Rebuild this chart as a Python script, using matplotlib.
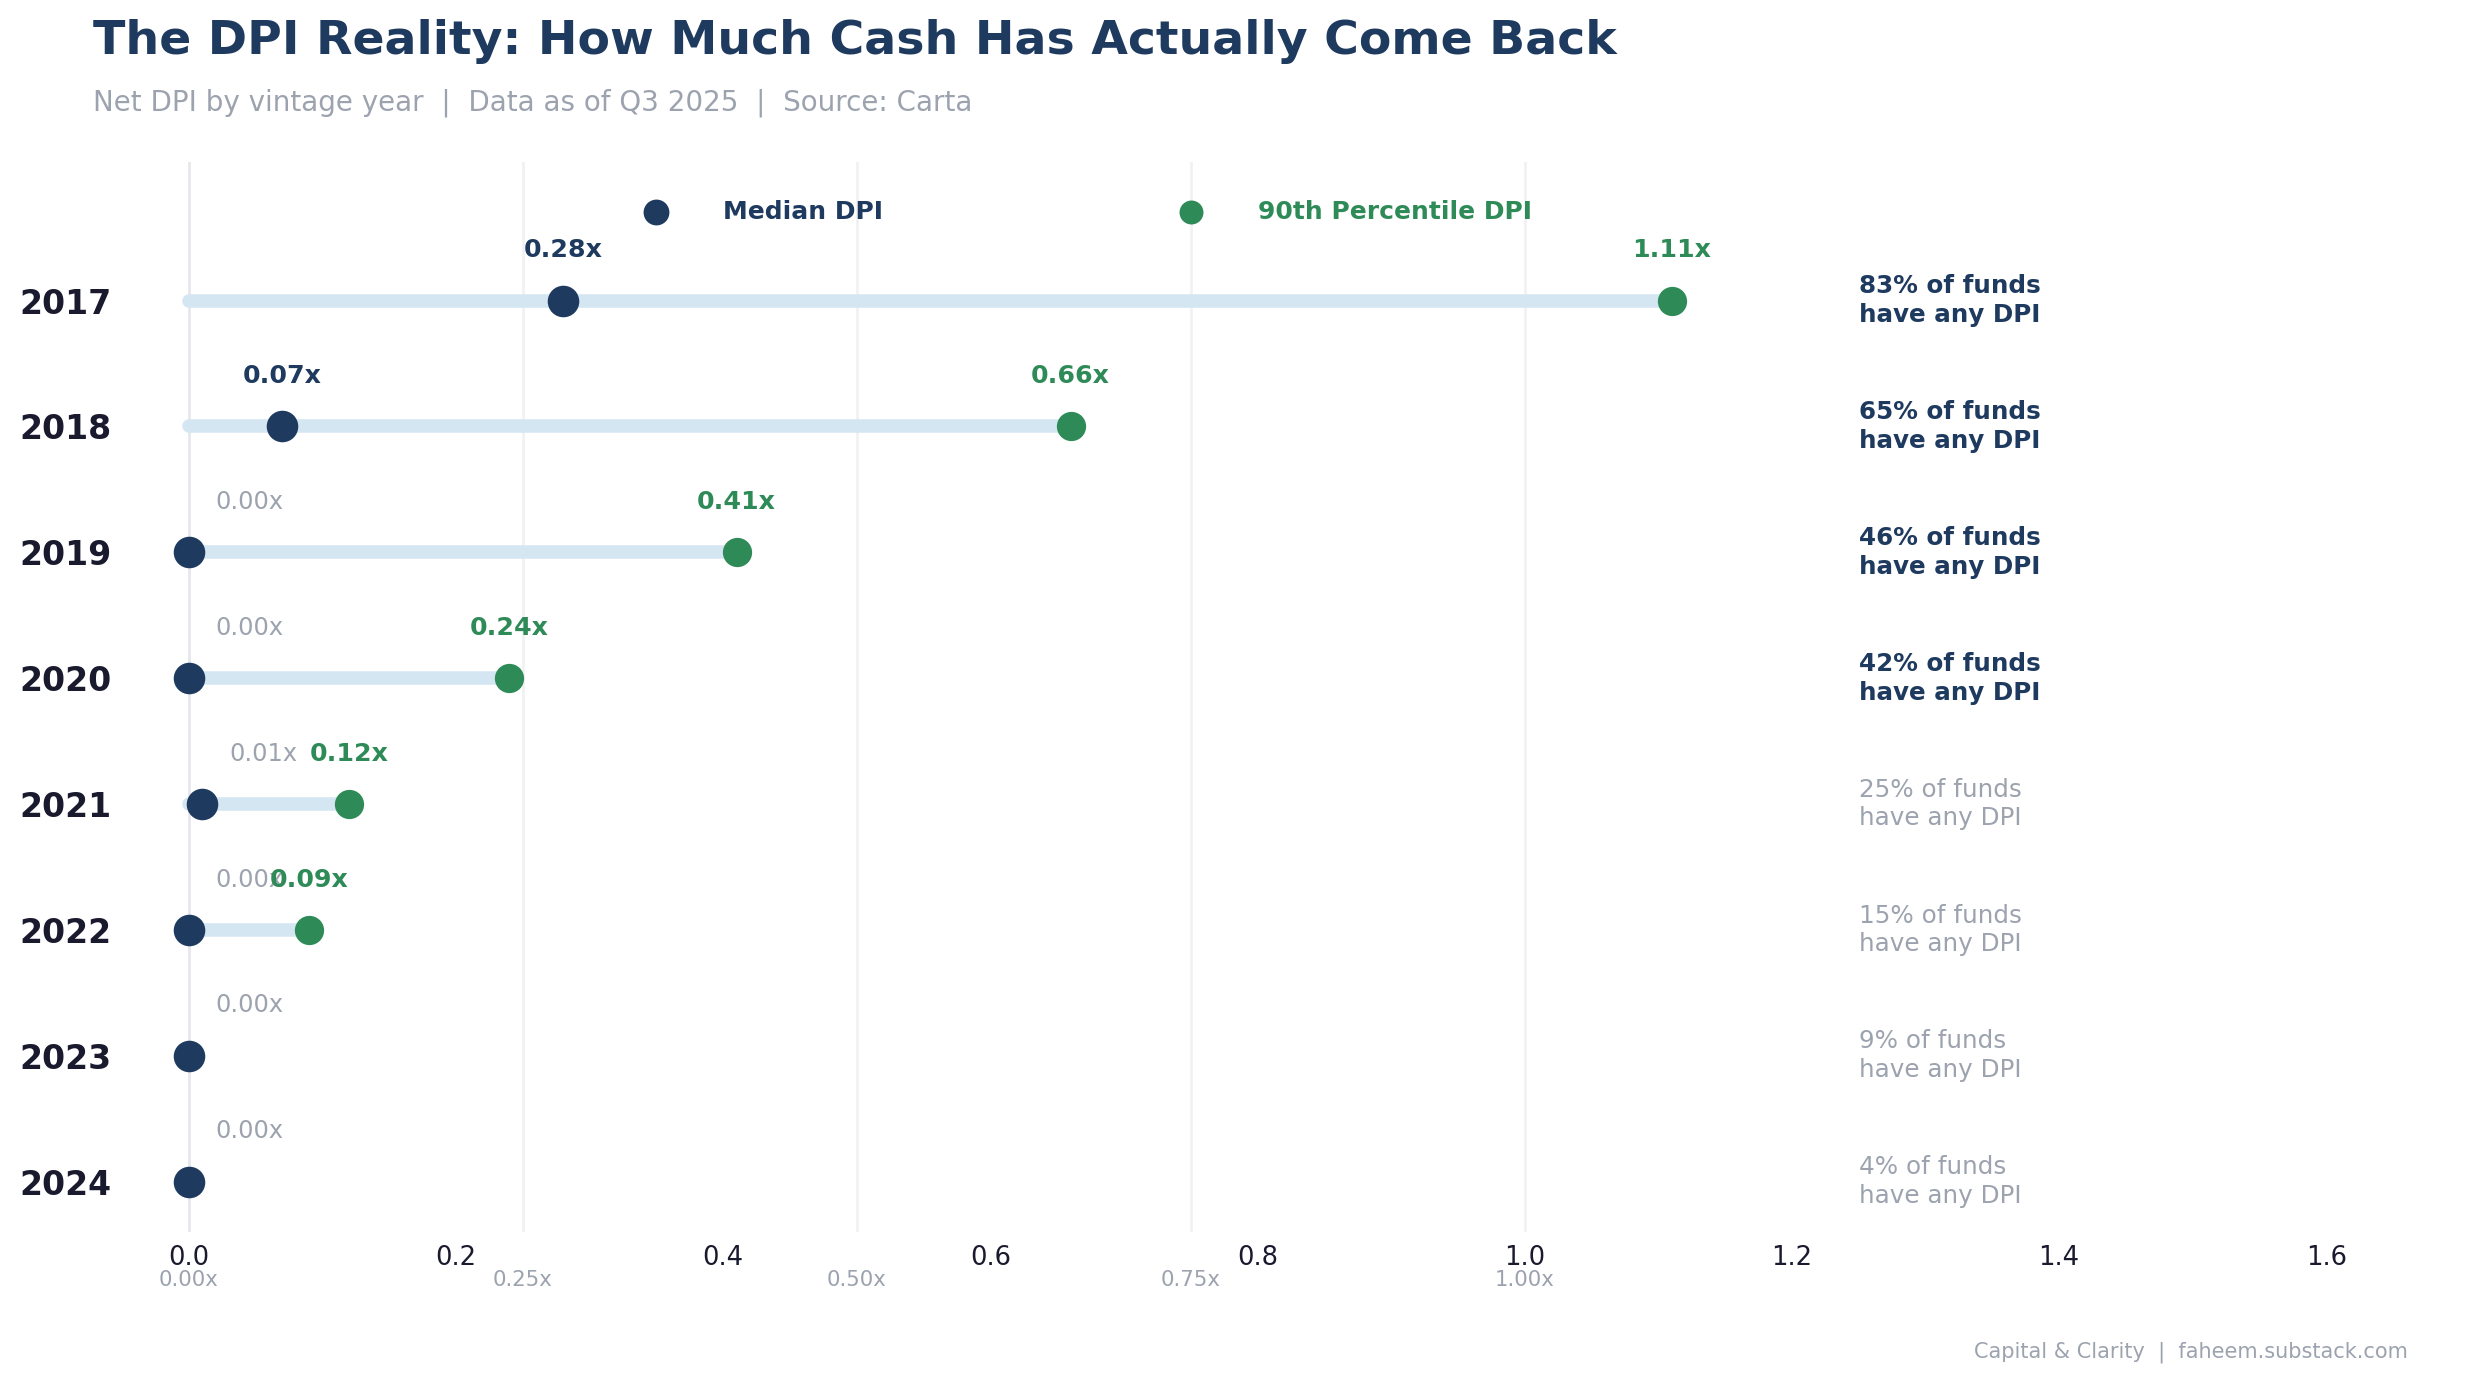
import matplotlib.pyplot as plt
import matplotlib.transforms as mtransforms

# Data
years = ['2017', '2018', '2019', '2020', '2021', '2022', '2023', '2024']
median_dpi = [0.28, 0.07, 0.00, 0.00, 0.01, 0.00, 0.00, 0.00]
p90_dpi = [1.11, 0.66, 0.41, 0.24, 0.12, 0.09, None, None]
pct_any_dpi = [83, 65, 46, 42, 25, 15, 9, 4]
ref_lines = [0.0, 0.25, 0.50, 0.75, 1.00]

NAVY = '#1e3a5f'
GREEN = '#2e8b57'
BAR = '#d4e6f1'
GREY = '#9ca3af'
DARK = '#1a1a2e'

fig = plt.figure(figsize=(2476 / 150, 1384 / 150), dpi=150)
ax = fig.add_axes([0.0493, 0.1098, 0.9172, 0.7731])

ys = list(range(len(years)))

# reference lines
for v in ref_lines:
    ax.axvline(v, color='#e5e7eb' if v == 0 else '#f0f1f3', lw=1.3, zorder=0)
    ax.text(v, -0.045, f'{v:.2f}x', transform=mtransforms.blended_transform_factory(ax.transData, ax.transAxes),
            ha='center', va='center', fontsize=10.2, color=GREY)

for y, med, p90, pct in zip(ys, median_dpi, p90_dpi, pct_any_dpi):
    if p90 is not None:
        ax.plot([0, p90], [y, y], color=BAR, lw=6.5, solid_capstyle='round', zorder=1)
        ax.scatter(p90, y, s=170, color=GREEN, zorder=3)
        ax.text(p90, y - 0.4, f'{p90:.2f}x', ha='center', va='center', fontsize=12.1,
                fontweight='bold', color=GREEN, zorder=5)
    ax.scatter(med, y, s=200, color=NAVY, zorder=4)
    if med > 0.05:
        ax.text(med, y - 0.4, f'{med:.2f}x', ha='center', va='center', fontsize=12.1,
                fontweight='bold', color=NAVY, zorder=5)
    else:
        ax.text(med + 0.02, y - 0.4, f'{med:.2f}x', ha='left', va='center', fontsize=11.5,
                color=GREY, zorder=4)
    strong = pct >= 40
    ax.text(1.25, y, f'{pct}% of funds\nhave any DPI', ha='left', va='center', fontsize=11.8,
            fontweight='bold' if strong else 'normal', color=NAVY if strong else GREY,
            linespacing=1.25)

# legend drawn by hand
ax.scatter(0.35, -0.7, s=130, color=NAVY, zorder=4)
ax.text(0.40, -0.7, 'Median DPI', ha='left', va='center', fontsize=12, fontweight='bold', color=NAVY)
ax.scatter(0.75, -0.7, s=110, color=GREEN, zorder=4)
ax.text(0.80, -0.7, '90th Percentile DPI', ha='left', va='center', fontsize=12, fontweight='bold', color=GREEN)

ax.set_xlim(-0.05, 1.65)
ax.set_ylim(7.4, -1.1)
ax.set_yticks(ys)
ax.set_yticklabels(years, fontsize=15.9, fontweight='bold', color=DARK)
ax.set_xticks([0.0, 0.2, 0.4, 0.6, 0.8, 1.0, 1.2, 1.4, 1.6])
ax.tick_params(axis='x', length=0, pad=6, labelsize=12.4, labelcolor=DARK)
ax.tick_params(axis='y', length=0, pad=5)
for s in ax.spines.values():
    s.set_visible(False)

fig.text(93 / 2476, 1 - 41 / 1384, 'The DPI Reality: How Much Cash Has Actually Come Back',
         ha='left', va='center', fontsize=22.75, fontweight='bold', color=NAVY)
fig.text(93 / 2476, 1 - 103 / 1384, 'Net DPI by vintage year  |  Data as of Q3 2025  |  Source: Carta',
         ha='left', va='center', fontsize=13.3, color=GREY)
fig.text(2408 / 2476, 1 - 1352 / 1384, 'Capital & Clarity  |  faheem.substack.com',
         ha='right', va='center', fontsize=10, color=GREY)

plt.savefig('out.png', dpi=150)
